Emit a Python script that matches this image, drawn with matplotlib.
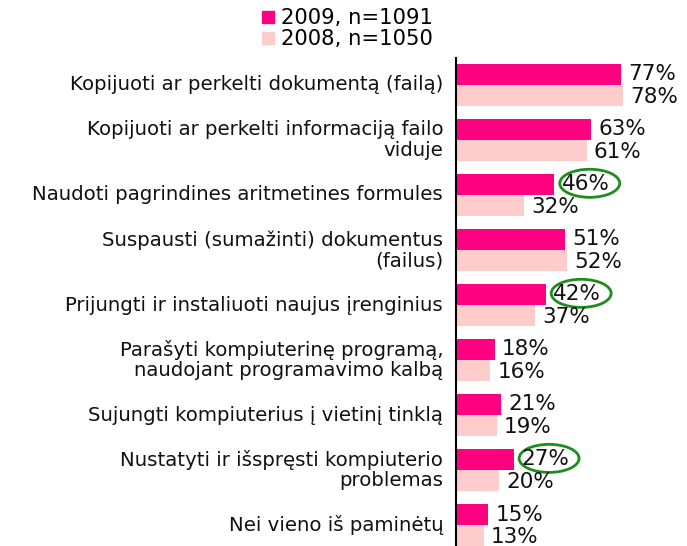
import numpy as np
import matplotlib.pyplot as plt
from matplotlib.patches import Ellipse
from matplotlib.lines import Line2D

# data
categories = [
    "Kopijuoti ar perkelti dokumentą (failą)",
    "Kopijuoti ar perkelti informaciją failo\nviduje",
    "Naudoti pagrindines aritmetines formules",
    "Suspausti (sumažinti) dokumentus\n(failus)",
    "Prijungti ir instaliuoti naujus įrenginius",
    "Parašyti kompiuterinę programą,\nnaudojant programavimo kalbą",
    "Sujungti kompiuterius į vietinį tinklą",
    "Nustatyti ir išspręsti kompiuterio\nproblemas",
    "Nei vieno iš paminėtų",
]
vals_2009 = [77, 63, 46, 51, 42, 18, 21, 27, 15]
vals_2008 = [78, 61, 32, 52, 37, 16, 19, 20, 13]
label_2009 = "2009, n=1091"
label_2008 = "2008, n=1050"
circled = [2, 4, 7]  # 2009 labels marked with green ellipse

c2009 = "#FF0080"
c2008 = "#FFCCCC"

fig = plt.figure(figsize=(6.87, 5.46), dpi=100)
ax = fig.add_axes([456 / 687, 0, 214 / 687, 488 / 546])

y = np.arange(len(categories))
h = 0.385
ax.barh(y - h / 2, vals_2009, height=h, color=c2009)
ax.barh(y + h / 2, vals_2008, height=h, color=c2008)

ax.set_xlim(0, 100)
ax.set_ylim(8.38, -0.49)

for i in range(len(categories)):
    ax.text(vals_2009[i] + 3.4, y[i] - h / 2, f"{vals_2009[i]}%", va="center", ha="left",
            fontsize=15.5, color="#111111")
    ax.text(vals_2008[i] + 3.4, y[i] + h / 2 + 0.03, f"{vals_2008[i]}%", va="center", ha="left",
            fontsize=15.5, color="#111111")
    ax.text(-6.0, y[i], categories[i], ha="right", va="center", multialignment="right",
            fontsize=14.2, color="#111111", linespacing=1.1)

for i in circled:
    e = Ellipse((vals_2009[i] + 16.5, y[i] - h / 2 - 0.02), width=28, height=0.51,
                fill=False, edgecolor="#1E8C1E", linewidth=2, clip_on=False)
    ax.add_patch(e)

ax.set_xticks([])
ax.set_yticks([])
for s in ["top", "right", "bottom"]:
    ax.spines[s].set_visible(False)
ax.spines["left"].set_linewidth(1.5)
ax.spines["left"].set_color("black")

handles = [
    Line2D([], [], marker="s", linestyle="none", markersize=9, color=c2009),
    Line2D([], [], marker="s", linestyle="none", markersize=9, color=c2008),
]
fig.legend(handles, [label_2009, label_2008], loc="upper center", bbox_to_anchor=(0.505, 1.012),
           frameon=False, fontsize=15.2, handlelength=0.7, handletextpad=0.3,
           labelspacing=0.05, borderpad=0.2)

fig.savefig("out.png", dpi=100)
